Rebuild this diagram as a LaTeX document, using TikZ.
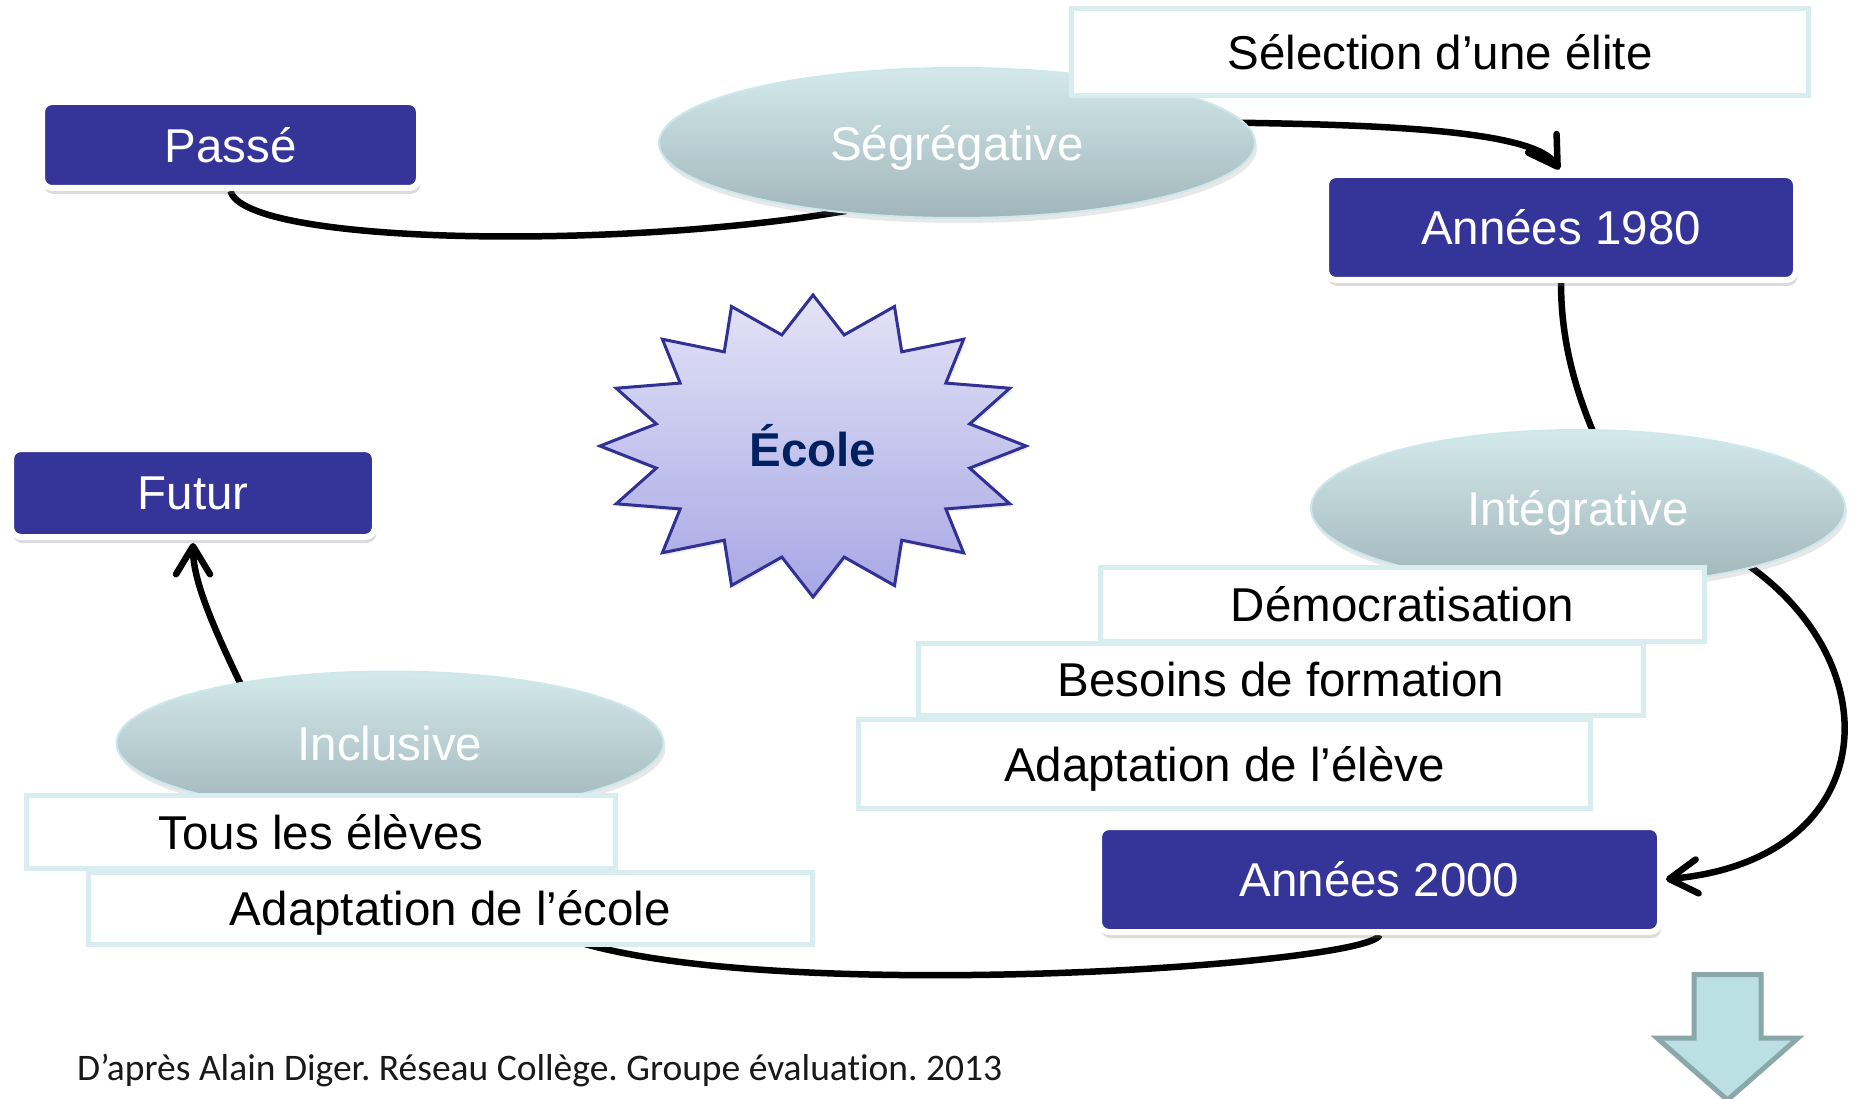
\documentclass[tikz,border=0pt]{standalone}
\usepackage{fontspec}
\setmainfont{Liberation Sans}
\newfontfamily\footfont[Ligatures=NoCommon]{Carlito}
\usetikzlibrary{shapes.geometric,arrows.meta,shadows,calc}
\pgfdeclarelayer{bg}
\pgfsetlayers{bg,main}
\definecolor{boxblue}{RGB}{53,52,152}
\definecolor{ellTop}{RGB}{211,233,236}
\definecolor{ellBot}{RGB}{161,182,186}
\definecolor{ellLine}{RGB}{205,232,236}
\definecolor{noteLine}{RGB}{216,237,240}
\definecolor{starTop}{RGB}{227,227,247}
\definecolor{starBot}{RGB}{167,167,229}
\definecolor{starLine}{RGB}{49,49,148}
\definecolor{ecoleTxt}{RGB}{0,33,96}
\definecolor{bigFill}{RGB}{187,224,228}
\definecolor{bigLine}{RGB}{138,167,169}
\begin{document}
\begin{tikzpicture}[x=1pt,y=-1pt,
  bigtext/.style={font=\fontsize{47.5}{57}\selectfont, text depth=0pt},
  periodbox/.style={bigtext, rectangle, rounded corners=10pt, fill=boxblue, draw=white,
    line width=6pt, text=white, inner sep=0pt,
    drop shadow={shadow xshift=1.5pt, shadow yshift=-6pt, opacity=0.28}},
  phasell/.style={bigtext, ellipse, inner sep=0pt, top color=ellTop, bottom color=ellBot,
    draw=ellLine, line width=2pt, text=white,
    drop shadow={shadow xshift=2pt, shadow yshift=-5pt, opacity=0.18}},
  notebox/.style={bigtext, rectangle, fill=white, draw=noteLine, line width=5pt,
    text=black, inner sep=0pt},
  conn/.style={line width=6.5pt, black},
  tipconn/.style={conn, -{Straight Barb[length=28pt,width=34pt,round]}}
]
\useasboundingbox (0,0) rectangle (1852,1099);
\begin{pgfonlayer}{bg}
\fill[white] (0,0) rectangle (1852,1099);
\end{pgfonlayer}

% ellipses
\node[phasell, minimum width=596pt, minimum height=150pt] (seg) at (957,143) {Ségrégative};
\node[phasell, minimum width=534pt, minimum height=156pt] (integ) at (1578,508) {Intégrative};
\node[phasell, minimum width=547pt, minimum height=143pt] (incl) at (390,743) {Inclusive};

% note boxes
\node[notebox, minimum width=737pt, minimum height=87pt] (selection) at (1440,52) {Sélection d’une élite};
\node[notebox, minimum width=604pt, minimum height=74pt] (democ) at (1402.5,604.5) {Démocratisation};
\node[notebox, minimum width=725pt, minimum height=72pt] (besoins) at (1281,679.5) {Besoins de formation};
\node[notebox, minimum width=732pt, minimum height=89pt] (adeleve) at (1224.5,764) {Adaptation de l’élève};
\node[notebox, minimum width=589pt, minimum height=73pt] (tous) at (321,832) {Tous les élèves};
\node[notebox, minimum width=724pt, minimum height=72pt] (adecole) at (450.5,908.5) {Adaptation de l’école};

% period boxes
\node[periodbox, minimum width=377pt, minimum height=86pt] (passe) at (230.5,145) {Passé};
\node[periodbox, minimum width=470pt, minimum height=105pt] (a1980) at (1561,227.5) {Années 1980};
\node[periodbox, minimum width=561pt, minimum height=105pt] (a2000) at (1379.5,879.5) {Années 2000};
\node[periodbox, minimum width=364pt, minimum height=88pt] (futur) at (193,493) {Futur};

% star
\path[top color=starTop, bottom color=starBot, draw=starLine, line width=3pt, line join=miter,
  drop shadow={shadow xshift=2pt, shadow yshift=-3pt, opacity=0.15}]
  (1026,446) \foreach \k in {1,...,31}{
    -- ({813+213*(0.875+0.125*cos(180*\k))*cos(11.25*\k)},
        {446-151*(0.875+0.125*cos(180*\k))*sin(11.25*\k)}) } -- cycle;
\node[font=\bfseries\fontsize{47.5}{57}\selectfont, text=ecoleTxt] (ecole) at (813,446) {École};

% connectors
\begin{pgfonlayer}{bg}
\draw[conn, shorten >=-10pt] (passe.south) .. controls (245,245) and (620,250) .. (seg.210);
\draw[tipconn, shorten <=-10pt, shorten >=3pt] (seg.4) .. controls (1400,125) and (1535,132) .. (a1980.north);
\draw[conn, shorten >=-10pt] (a1980.south) .. controls (1561,340) and (1575,390) .. (integ.80);
\draw[tipconn, shorten <=-10pt, shorten >=3pt] (integ.-19) .. controls (1895,665) and (1880,860) .. (a2000.east);
\draw[conn, shorten >=-20pt] (a2000.south) .. controls (1370,965) and (780,1005) .. (adecole.-15);
\draw[tipconn, shorten <=-10pt, shorten >=3pt] (incl.158) .. controls (212,625) and (193,580) .. (futur.south);
\end{pgfonlayer}

% big down arrow
\path[fill=bigFill, draw=bigLine, line width=5pt, line join=miter]
  (1694,974.5) -- (1761,974.5) -- (1761,1038) -- (1798,1038) -- (1727.5,1100)
  -- (1657,1038) -- (1694,1038) -- cycle;

% credit
\node[anchor=base west, font=\footfont\frenchspacing\fontsize{37.5}{45}\selectfont, text=black!90, inner sep=0pt]
  (credit) at (77,1080) {D’après Alain Diger. Réseau Collège. Groupe évaluation. 2013};
\end{tikzpicture}
\end{document}
